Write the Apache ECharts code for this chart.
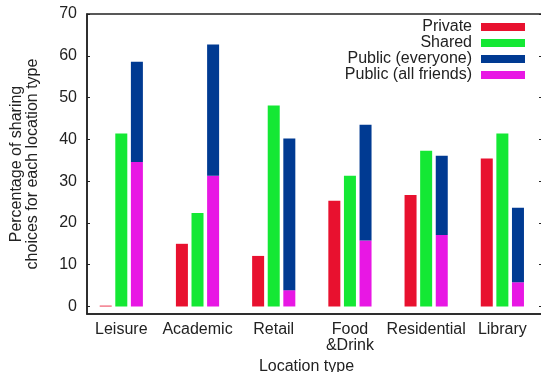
<!DOCTYPE html>
<html>
<head>
<meta charset="utf-8">
<script src="https://cdn.jsdelivr.net/npm/echarts@6/dist/echarts.min.js"></script>
<style>
  html, body { margin: 0; padding: 0; background: #ffffff; }
  #chart { width: 541px; height: 372px; }
</style>
</head>
<body>
<div id="chart"></div>
<script>
// Location types along the x axis
const categories = ['Leisure', 'Academic', 'Retail', 'Food\n&Drink', 'Residential', 'Library'];

// Percentage of sharing choices per location type
const privateVals   = [0.2, 15.0, 12.1, 25.3, 26.7, 35.4];
const sharedVals    = [41.4, 22.4, 48.1, 31.3, 37.3, 41.4];
const publicFriends = [34.6, 31.3, 3.9, 15.8, 17.1, 5.8];
const publicEveryone = [24.0, 31.4, 36.3, 27.7, 19.0, 17.8];

const yTicks = [0, 10, 20, 30, 40, 50, 60, 70];
const legendNames = ['Private', 'Shared', 'Public (everyone)', 'Public (all friends)'];

const colors = {
  'Private': '#e8112f',
  'Shared': '#14e834',
  'Public (everyone)': '#003a92',
  'Public (all friends)': '#e817e4'
};

const FONT = 'Liberation Sans, Arial, Helvetica, sans-serif';
const TXT = '#222222';

// [value, categoryIndex] so the value dimension comes first and is the one stacked
function pairs(vals) {
  return vals.map((v, i) => [v, i]);
}

const chart = echarts.init(document.getElementById('chart'), null, { renderer: 'canvas' });

const legends = legendNames.map((name, i) => ({
  data: [name],
  orient: 'vertical',
  align: 'right',
  right: 16,
  top: 19 + i * 16,
  padding: 0,
  itemGap: 0,
  itemWidth: 44,
  itemHeight: 8,
  icon: 'rect',
  selectedMode: false,
  textStyle: { fontFamily: FONT, fontSize: 16, color: TXT, lineHeight: 16, padding: [0, 4, 0, 0] }
}));

const barCommon = { type: 'bar', barWidth: 12, barGap: '30%', encode: { x: 1, y: 0 } };

chart.setOption({
  animation: false,
  textStyle: { fontFamily: FONT },
  grid: {
    left: 87, right: -1, top: 14, bottom: 58,
    outerBoundsMode: 'none', containLabel: false,
    show: true, borderColor: TXT, borderWidth: 1.5
  },
  legend: legends,
  xAxis: {
    type: 'value',
    min: -0.45,
    max: 5.52,
    name: 'Location type',
    nameLocation: 'middle',
    nameGap: 43,
    nameTextStyle: { fontFamily: FONT, fontSize: 16, color: TXT, lineHeight: 16, padding: [0, 16, 0, 0] },
    axisLine: { show: true, onZero: false, lineStyle: { color: TXT, width: 1.5 } },
    axisTick: { show: false },
    splitLine: { show: false },
    axisLabel: {
      customValues: categories.map((c, i) => i),
      formatter: v => categories[Math.round(v)] || '',
      fontFamily: FONT, fontSize: 16, color: TXT, lineHeight: 16, margin: 8
    }
  },
  yAxis: [{
    type: 'value',
    min: -1.8,
    max: 70,
    position: 'left',
    name: 'Percentage of sharing\nchoices for each location type',
    nameLocation: 'middle',
    nameRotate: 90,
    nameGap: 46,
    nameTextStyle: { fontFamily: FONT, fontSize: 16, color: TXT, lineHeight: 16 },
    axisLine: { show: true, onZero: false, lineStyle: { color: TXT, width: 1.5 } },
    axisTick: { show: true, inside: true, length: 3, customValues: yTicks, lineStyle: { color: TXT } },
    splitLine: { show: false },
    axisLabel: { customValues: yTicks, fontFamily: FONT, fontSize: 16, color: TXT, margin: 10 }
  }, {
    type: 'value',
    min: -1.8,
    max: 70,
    position: 'right',
    axisLine: { show: true, onZero: false, lineStyle: { color: TXT, width: 1.5 } },
    axisTick: { show: true, inside: true, length: 3, customValues: yTicks, lineStyle: { color: TXT } },
    splitLine: { show: false },
    axisLabel: { show: false }
  }],
  series: [
    Object.assign({ name: 'Private', data: pairs(privateVals), itemStyle: { color: colors['Private'] } }, barCommon),
    Object.assign({ name: 'Shared', data: pairs(sharedVals), itemStyle: { color: colors['Shared'] } }, barCommon),
    Object.assign({ name: 'Public (all friends)', stack: 'public', data: pairs(publicFriends), itemStyle: { color: colors['Public (all friends)'] } }, barCommon),
    Object.assign({ name: 'Public (everyone)', stack: 'public', data: pairs(publicEveryone), itemStyle: { color: colors['Public (everyone)'] } }, barCommon)
  ]
});
</script>
</body>
</html>
